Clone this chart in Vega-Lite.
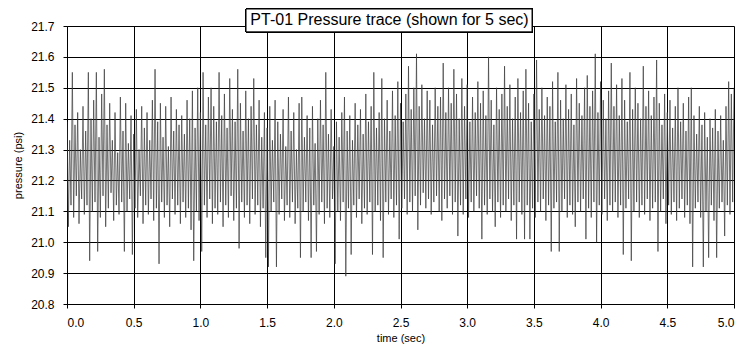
{
"$schema":"https://vega.github.io/schema/vega-lite/v6.json",
"width":667,"height":278,"autosize":"none",
"padding":{"left":67,"top":26,"right":11,"bottom":50},
"background":"white",
"config":{"view":{"stroke":null},"font":"Liberation Sans",
"axis":{"grid":true,"gridColor":"black","gridOpacity":1,"gridWidth":1,"domainColor":"black","tickColor":"black","tickSize":4,"labelFont":"Liberation Sans","labelFontSize":12,"labelColor":"black","labelOverlap":false,"titleFont":"Liberation Sans","titleFontSize":11,"titleFontWeight":"normal","titleColor":"black"}},
"title":{"text":"PT-01 Pressure trace (shown for 5 sec)","font":"Liberation Sans","fontSize":16,"fontWeight":"normal","color":"black","anchor":"middle","dx":-11,"offset":-32,"baseline":"alphabetic","zindex":10},
"data":{"values":[
{"t":0.00,"p":21.39},{"t":0.01,"p":21.05},{"t":0.02,"p":21.33},{"t":0.03,"p":21.12},{"t":0.04,"p":21.55},{"t":0.05,"p":21.08},{"t":0.06,"p":21.38},{"t":0.07,"p":21.15},{"t":0.08,"p":21.42},{"t":0.09,"p":21.06},
{"t":0.10,"p":21.30},{"t":0.11,"p":21.14},{"t":0.12,"p":21.44},{"t":0.13,"p":21.09},{"t":0.14,"p":21.36},{"t":0.15,"p":21.12},{"t":0.16,"p":21.55},{"t":0.17,"p":20.94},{"t":0.18,"p":21.40},{"t":0.19,"p":21.10},
{"t":0.20,"p":21.46},{"t":0.21,"p":21.13},{"t":0.22,"p":21.55},{"t":0.23,"p":20.97},{"t":0.24,"p":21.34},{"t":0.25,"p":21.08},{"t":0.26,"p":21.48},{"t":0.27,"p":21.15},{"t":0.28,"p":21.56},{"t":0.29,"p":21.05},
{"t":0.30,"p":21.38},{"t":0.31,"p":21.11},{"t":0.32,"p":21.45},{"t":0.33,"p":21.16},{"t":0.34,"p":21.33},{"t":0.35,"p":21.07},{"t":0.36,"p":21.42},{"t":0.37,"p":21.12},{"t":0.38,"p":21.29},{"t":0.39,"p":21.09},
{"t":0.40,"p":21.47},{"t":0.41,"p":21.13},{"t":0.42,"p":21.36},{"t":0.43,"p":20.97},{"t":0.44,"p":21.45},{"t":0.45,"p":21.10},{"t":0.46,"p":21.32},{"t":0.47,"p":21.14},{"t":0.48,"p":21.41},{"t":0.49,"p":20.96},
{"t":0.50,"p":21.35},{"t":0.51,"p":21.11},{"t":0.52,"p":21.43},{"t":0.53,"p":21.08},{"t":0.54,"p":21.30},{"t":0.55,"p":21.15},{"t":0.56,"p":21.44},{"t":0.57,"p":21.06},{"t":0.58,"p":21.37},{"t":0.59,"p":21.12},
{"t":0.60,"p":21.42},{"t":0.61,"p":21.09},{"t":0.62,"p":21.33},{"t":0.63,"p":21.14},{"t":0.64,"p":21.46},{"t":0.65,"p":21.07},{"t":0.66,"p":21.56},{"t":0.67,"p":21.11},{"t":0.68,"p":21.39},{"t":0.69,"p":20.93},
{"t":0.70,"p":21.45},{"t":0.71,"p":21.13},{"t":0.72,"p":21.34},{"t":0.73,"p":21.08},{"t":0.74,"p":21.44},{"t":0.75,"p":21.12},{"t":0.76,"p":21.31},{"t":0.77,"p":21.05},{"t":0.78,"p":21.47},{"t":0.79,"p":21.14},
{"t":0.80,"p":21.36},{"t":0.81,"p":21.09},{"t":0.82,"p":21.43},{"t":0.83,"p":21.12},{"t":0.84,"p":21.38},{"t":0.85,"p":21.06},{"t":0.86,"p":21.41},{"t":0.87,"p":21.13},{"t":0.88,"p":21.35},{"t":0.89,"p":21.08},
{"t":0.90,"p":21.46},{"t":0.91,"p":21.11},{"t":0.92,"p":21.40},{"t":0.93,"p":21.04},{"t":0.94,"p":21.49},{"t":0.95,"p":20.94},{"t":0.96,"p":21.37},{"t":0.97,"p":21.10},{"t":0.98,"p":21.50},{"t":0.99,"p":21.07},
{"t":1.00,"p":21.42},{"t":1.01,"p":20.97},{"t":1.02,"p":21.55},{"t":1.03,"p":21.12},{"t":1.04,"p":21.38},{"t":1.05,"p":21.08},{"t":1.06,"p":21.47},{"t":1.07,"p":21.14},{"t":1.08,"p":21.50},{"t":1.09,"p":21.06},
{"t":1.10,"p":21.44},{"t":1.11,"p":21.11},{"t":1.12,"p":21.39},{"t":1.13,"p":21.09},{"t":1.14,"p":21.55},{"t":1.15,"p":21.13},{"t":1.16,"p":21.41},{"t":1.17,"p":21.05},{"t":1.18,"p":21.48},{"t":1.19,"p":21.12},
{"t":1.20,"p":21.37},{"t":1.21,"p":21.08},{"t":1.22,"p":21.53},{"t":1.23,"p":21.15},{"t":1.24,"p":21.43},{"t":1.25,"p":21.07},{"t":1.26,"p":21.39},{"t":1.27,"p":21.11},{"t":1.28,"p":21.56},{"t":1.29,"p":20.98},
{"t":1.30,"p":21.45},{"t":1.31,"p":21.13},{"t":1.32,"p":21.36},{"t":1.33,"p":21.08},{"t":1.34,"p":21.49},{"t":1.35,"p":21.12},{"t":1.36,"p":21.40},{"t":1.37,"p":21.06},{"t":1.38,"p":21.44},{"t":1.39,"p":21.14},
{"t":1.40,"p":21.53},{"t":1.41,"p":21.09},{"t":1.42,"p":21.38},{"t":1.43,"p":21.12},{"t":1.44,"p":21.46},{"t":1.45,"p":21.05},{"t":1.46,"p":21.34},{"t":1.47,"p":21.11},{"t":1.48,"p":21.42},{"t":1.49,"p":20.95},
{"t":1.50,"p":21.37},{"t":1.51,"p":20.92},{"t":1.52,"p":21.44},{"t":1.53,"p":21.10},{"t":1.54,"p":21.33},{"t":1.55,"p":21.13},{"t":1.56,"p":21.46},{"t":1.57,"p":20.92},{"t":1.58,"p":21.39},{"t":1.59,"p":21.09},
{"t":1.60,"p":21.35},{"t":1.61,"p":21.14},{"t":1.62,"p":21.43},{"t":1.63,"p":21.07},{"t":1.64,"p":21.31},{"t":1.65,"p":21.12},{"t":1.66,"p":21.47},{"t":1.67,"p":21.08},{"t":1.68,"p":21.36},{"t":1.69,"p":21.13},
{"t":1.70,"p":21.42},{"t":1.71,"p":21.06},{"t":1.72,"p":21.30},{"t":1.73,"p":21.11},{"t":1.74,"p":21.45},{"t":1.75,"p":20.95},{"t":1.76,"p":21.47},{"t":1.77,"p":21.10},{"t":1.78,"p":21.34},{"t":1.79,"p":21.13},
{"t":1.80,"p":21.41},{"t":1.81,"p":21.07},{"t":1.82,"p":21.37},{"t":1.83,"p":20.95},{"t":1.84,"p":21.44},{"t":1.85,"p":21.12},{"t":1.86,"p":21.32},{"t":1.87,"p":20.97},{"t":1.88,"p":21.40},{"t":1.89,"p":21.09},
{"t":1.90,"p":21.46},{"t":1.91,"p":21.13},{"t":1.92,"p":21.38},{"t":1.93,"p":21.06},{"t":1.94,"p":21.55},{"t":1.95,"p":21.11},{"t":1.96,"p":21.35},{"t":1.97,"p":21.08},{"t":1.98,"p":21.43},{"t":1.99,"p":21.14},
{"t":2.00,"p":21.31},{"t":2.01,"p":20.93},{"t":2.02,"p":21.39},{"t":2.03,"p":21.10},{"t":2.04,"p":21.34},{"t":2.05,"p":21.07},{"t":2.06,"p":21.42},{"t":2.07,"p":21.13},{"t":2.08,"p":21.47},{"t":2.09,"p":20.89},
{"t":2.10,"p":21.36},{"t":2.11,"p":21.11},{"t":2.12,"p":21.41},{"t":2.13,"p":20.96},{"t":2.14,"p":21.33},{"t":2.15,"p":21.12},{"t":2.16,"p":21.45},{"t":2.17,"p":21.08},{"t":2.18,"p":21.38},{"t":2.19,"p":21.14},
{"t":2.20,"p":21.43},{"t":2.21,"p":21.06},{"t":2.22,"p":21.35},{"t":2.23,"p":21.11},{"t":2.24,"p":21.48},{"t":2.25,"p":21.09},{"t":2.26,"p":21.39},{"t":2.27,"p":21.13},{"t":2.28,"p":21.44},{"t":2.29,"p":20.96},
{"t":2.30,"p":21.55},{"t":2.31,"p":21.10},{"t":2.32,"p":21.37},{"t":2.33,"p":21.12},{"t":2.34,"p":21.42},{"t":2.35,"p":21.07},{"t":2.36,"p":21.53},{"t":2.37,"p":20.95},{"t":2.38,"p":21.40},{"t":2.39,"p":21.13},
{"t":2.40,"p":21.46},{"t":2.41,"p":21.09},{"t":2.42,"p":21.36},{"t":2.43,"p":21.14},{"t":2.44,"p":21.49},{"t":2.45,"p":21.08},{"t":2.46,"p":21.41},{"t":2.47,"p":21.12},{"t":2.48,"p":21.52},{"t":2.49,"p":21.01},
{"t":2.50,"p":21.45},{"t":2.51,"p":21.11},{"t":2.52,"p":21.39},{"t":2.53,"p":21.14},{"t":2.54,"p":21.48},{"t":2.55,"p":21.09},{"t":2.56,"p":21.57},{"t":2.57,"p":21.13},{"t":2.58,"p":21.43},{"t":2.59,"p":21.10},
{"t":2.60,"p":21.50},{"t":2.61,"p":21.15},{"t":2.62,"p":21.61},{"t":2.63,"p":21.04},{"t":2.64,"p":21.44},{"t":2.65,"p":21.12},{"t":2.66,"p":21.51},{"t":2.67,"p":21.16},{"t":2.68,"p":21.40},{"t":2.69,"p":21.11},
{"t":2.70,"p":21.49},{"t":2.71,"p":21.14},{"t":2.72,"p":21.46},{"t":2.73,"p":21.09},{"t":2.74,"p":21.38},{"t":2.75,"p":21.13},{"t":2.76,"p":21.50},{"t":2.77,"p":21.15},{"t":2.78,"p":21.44},{"t":2.79,"p":21.10},
{"t":2.80,"p":21.47},{"t":2.81,"p":21.07},{"t":2.82,"p":21.58},{"t":2.83,"p":21.14},{"t":2.84,"p":21.42},{"t":2.85,"p":21.11},{"t":2.86,"p":21.50},{"t":2.87,"p":21.15},{"t":2.88,"p":21.45},{"t":2.89,"p":21.09},
{"t":2.90,"p":21.56},{"t":2.91,"p":21.13},{"t":2.92,"p":21.48},{"t":2.93,"p":21.02},{"t":2.94,"p":21.40},{"t":2.95,"p":21.12},{"t":2.96,"p":21.53},{"t":2.97,"p":21.09},{"t":2.98,"p":21.44},{"t":2.99,"p":21.14},
{"t":3.00,"p":21.51},{"t":3.01,"p":21.08},{"t":3.02,"p":21.39},{"t":3.03,"p":21.13},{"t":3.04,"p":21.47},{"t":3.05,"p":21.10},{"t":3.06,"p":21.42},{"t":3.07,"p":21.15},{"t":3.08,"p":21.52},{"t":3.09,"p":21.11},
{"t":3.10,"p":21.45},{"t":3.11,"p":21.01},{"t":3.12,"p":21.49},{"t":3.13,"p":21.12},{"t":3.14,"p":21.41},{"t":3.15,"p":21.09},{"t":3.16,"p":21.60},{"t":3.17,"p":21.14},{"t":3.18,"p":21.46},{"t":3.19,"p":21.10},
{"t":3.20,"p":21.38},{"t":3.21,"p":21.05},{"t":3.22,"p":21.50},{"t":3.23,"p":21.13},{"t":3.24,"p":21.43},{"t":3.25,"p":21.08},{"t":3.26,"p":21.48},{"t":3.27,"p":21.12},{"t":3.28,"p":21.57},{"t":3.29,"p":21.10},
{"t":3.30,"p":21.44},{"t":3.31,"p":21.14},{"t":3.32,"p":21.51},{"t":3.33,"p":21.07},{"t":3.34,"p":21.40},{"t":3.35,"p":21.12},{"t":3.36,"p":21.47},{"t":3.37,"p":21.01},{"t":3.38,"p":21.53},{"t":3.39,"p":21.13},
{"t":3.40,"p":21.42},{"t":3.41,"p":21.09},{"t":3.42,"p":21.49},{"t":3.43,"p":21.01},{"t":3.44,"p":21.56},{"t":3.45,"p":21.12},{"t":3.46,"p":21.45},{"t":3.47,"p":21.01},{"t":3.48,"p":21.39},{"t":3.49,"p":21.11},
{"t":3.50,"p":21.48},{"t":3.51,"p":21.08},{"t":3.52,"p":21.59},{"t":3.53,"p":21.13},{"t":3.54,"p":21.43},{"t":3.55,"p":21.10},{"t":3.56,"p":21.50},{"t":3.57,"p":21.14},{"t":3.58,"p":21.41},{"t":3.59,"p":21.07},
{"t":3.60,"p":21.47},{"t":3.61,"p":21.12},{"t":3.62,"p":21.44},{"t":3.63,"p":20.97},{"t":3.64,"p":21.52},{"t":3.65,"p":21.11},{"t":3.66,"p":21.39},{"t":3.67,"p":21.13},{"t":3.68,"p":21.55},{"t":3.69,"p":20.97},
{"t":3.70,"p":21.46},{"t":3.71,"p":21.10},{"t":3.72,"p":21.40},{"t":3.73,"p":21.14},{"t":3.74,"p":21.51},{"t":3.75,"p":21.08},{"t":3.76,"p":21.43},{"t":3.77,"p":21.12},{"t":3.78,"p":21.48},{"t":3.79,"p":21.09},
{"t":3.80,"p":21.38},{"t":3.81,"p":21.05},{"t":3.82,"p":21.53},{"t":3.83,"p":21.13},{"t":3.84,"p":21.45},{"t":3.85,"p":21.10},{"t":3.86,"p":21.41},{"t":3.87,"p":21.14},{"t":3.88,"p":21.50},{"t":3.89,"p":21.01},
{"t":3.90,"p":21.54},{"t":3.91,"p":21.11},{"t":3.92,"p":21.44},{"t":3.93,"p":21.08},{"t":3.94,"p":21.49},{"t":3.95,"p":21.13},{"t":3.96,"p":21.61},{"t":3.97,"p":21.00},{"t":3.98,"p":21.42},{"t":3.99,"p":21.12},
{"t":4.00,"p":21.52},{"t":4.01,"p":21.09},{"t":4.02,"p":21.46},{"t":4.03,"p":21.14},{"t":4.04,"p":21.40},{"t":4.05,"p":21.07},{"t":4.06,"p":21.49},{"t":4.07,"p":21.12},{"t":4.08,"p":21.58},{"t":4.09,"p":21.10},
{"t":4.10,"p":21.44},{"t":4.11,"p":21.13},{"t":4.12,"p":21.51},{"t":4.13,"p":21.08},{"t":4.14,"p":21.41},{"t":4.15,"p":21.12},{"t":4.16,"p":21.53},{"t":4.17,"p":20.96},{"t":4.18,"p":21.46},{"t":4.19,"p":21.11},
{"t":4.20,"p":21.39},{"t":4.21,"p":21.14},{"t":4.22,"p":21.55},{"t":4.23,"p":20.94},{"t":4.24,"p":21.43},{"t":4.25,"p":21.10},{"t":4.26,"p":21.50},{"t":4.27,"p":21.13},{"t":4.28,"p":21.45},{"t":4.29,"p":21.08},
{"t":4.30,"p":21.40},{"t":4.31,"p":21.12},{"t":4.32,"p":21.57},{"t":4.33,"p":21.09},{"t":4.34,"p":21.44},{"t":4.35,"p":21.14},{"t":4.36,"p":21.49},{"t":4.37,"p":21.07},{"t":4.38,"p":21.41},{"t":4.39,"p":21.11},
{"t":4.40,"p":21.47},{"t":4.41,"p":21.13},{"t":4.42,"p":21.59},{"t":4.43,"p":20.97},{"t":4.44,"p":21.45},{"t":4.45,"p":21.10},{"t":4.46,"p":21.38},{"t":4.47,"p":21.14},{"t":4.48,"p":21.48},{"t":4.49,"p":21.06},
{"t":4.50,"p":21.42},{"t":4.51,"p":21.12},{"t":4.52,"p":21.46},{"t":4.53,"p":21.09},{"t":4.54,"p":21.37},{"t":4.55,"p":21.13},{"t":4.56,"p":21.44},{"t":4.57,"p":21.07},{"t":4.58,"p":21.50},{"t":4.59,"p":21.11},
{"t":4.60,"p":21.39},{"t":4.61,"p":21.14},{"t":4.62,"p":21.45},{"t":4.63,"p":21.08},{"t":4.64,"p":21.36},{"t":4.65,"p":21.12},{"t":4.66,"p":21.47},{"t":4.67,"p":21.06},{"t":4.68,"p":21.50},{"t":4.69,"p":20.92},
{"t":4.70,"p":21.41},{"t":4.71,"p":21.11},{"t":4.72,"p":21.35},{"t":4.73,"p":21.13},{"t":4.74,"p":21.44},{"t":4.75,"p":21.08},{"t":4.76,"p":21.38},{"t":4.77,"p":20.92},{"t":4.78,"p":21.42},{"t":4.79,"p":21.10},
{"t":4.80,"p":21.34},{"t":4.81,"p":20.95},{"t":4.82,"p":21.40},{"t":4.83,"p":21.12},{"t":4.84,"p":21.37},{"t":4.85,"p":21.07},{"t":4.86,"p":21.43},{"t":4.87,"p":20.95},{"t":4.88,"p":21.36},{"t":4.89,"p":21.11},
{"t":4.90,"p":21.41},{"t":4.91,"p":21.13},{"t":4.92,"p":21.33},{"t":4.93,"p":21.02},{"t":4.94,"p":21.44},{"t":4.95,"p":21.12},{"t":4.96,"p":21.52},{"t":4.97,"p":21.09},{"t":4.98,"p":21.48},{"t":4.99,"p":21.13},
{"t":5.00,"p":21.50}
]},
"layer":[
{"mark":{"type":"line","color":"#3a3a3a","strokeWidth":0.7,"clip":true},
 "encoding":{
  "x":{"field":"t","type":"quantitative","scale":{"domain":[0,5],"nice":false},"axis":{"title":"time (sec)","values":[0,0.5,1,1.5,2,2.5,3,3.5,4,4.5,5],"tickCount":20,"format":".1f","labelPadding":9,"titlePadding":4}},
  "y":{"field":"p","type":"quantitative","scale":{"domain":[20.8,21.7],"nice":false,"zero":false},"axis":{"title":"pressure (psi)","values":[20.8,20.9,21.0,21.1,21.2,21.3,21.4,21.5,21.6,21.7],"tickCount":20,"format":".1f","labelPadding":9,"titlePadding":7}}
 }},
{"mark":{"type":"rect","fill":"white","stroke":"black","strokeWidth":1,"clip":false},
 "encoding":{"x":{"datum":1.342,"type":"quantitative"},"x2":{"datum":3.486},"y":{"datum":21.755,"type":"quantitative"},"y2":{"datum":21.681}}}
]
}
